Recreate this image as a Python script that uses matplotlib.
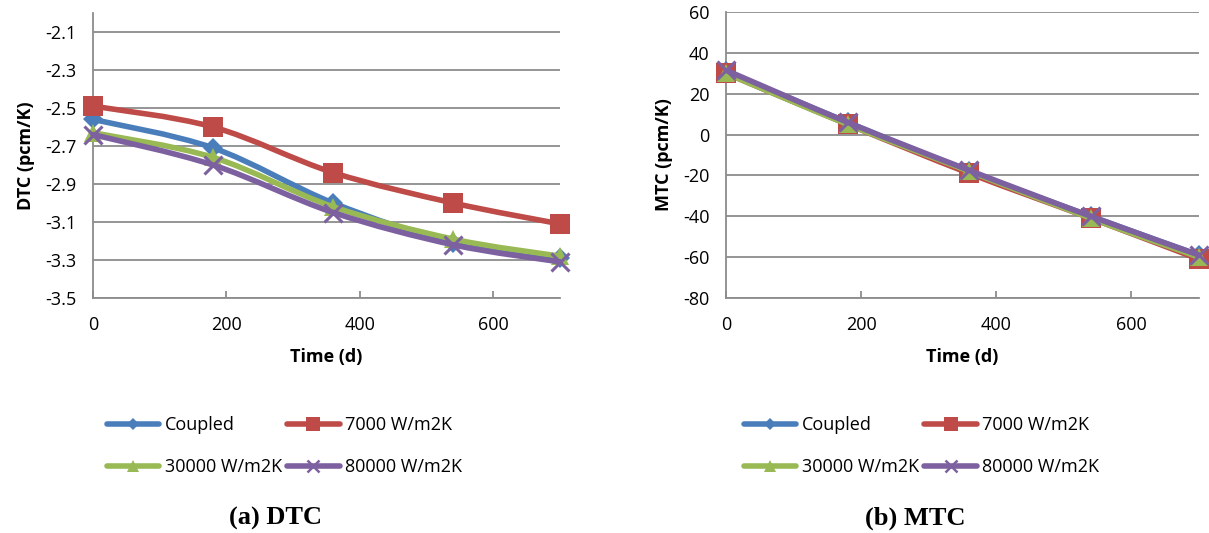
import numpy as np
import matplotlib
matplotlib.use('Agg')
import matplotlib.pyplot as plt
from matplotlib.path import Path
from matplotlib.patches import PathPatch
from matplotlib.lines import Line2D

# Data
time_d = [0, 180, 360, 540, 700]
series_names = ['Coupled', '7000 W/m2K', '30000 W/m2K', '80000 W/m2K']

dtc_coupled = [-2.56, -2.71, -3.00, -3.21, -3.29]
dtc_7000 = [-2.49, -2.60, -2.84, -3.00, -3.11]
dtc_30000 = [-2.63, -2.76, -3.02, -3.19, -3.28]
dtc_80000 = [-2.64, -2.80, -3.05, -3.22, -3.31]

mtc_coupled = [31, 6, -18, -40, -59]
mtc_7000 = [30, 5, -19, -41, -61]
mtc_30000 = [30, 5, -18, -41, -60]
mtc_80000 = [31.5, 6, -17.5, -40, -59]

colors = ['#4a7ebb', '#be4b48', '#98b954', '#7d60a0']
markers = ['D', 's', '^', 'x']
msizes = [10, 14, 13, 13]

plt.rcParams['font.family'] = ['Open Sans', 'DejaVu Sans']
plt.rcParams['axes.unicode_minus'] = False
grid_col = '#8c8c8c'
fs = 13


def smooth_path(x, y):
    # Excel-like smoothed line: Catmull-Rom segments as cubic Bezier curves
    pts = np.column_stack([x, y]).astype(float)
    ext = np.vstack([pts[0], pts, pts[-1]])
    verts = [tuple(pts[0])]
    codes = [Path.MOVETO]
    for i in range(1, len(ext) - 2):
        p0, p1, p2, p3 = ext[i - 1], ext[i], ext[i + 1], ext[i + 2]
        c1 = p1 + (p2 - p0) / 6.0
        c2 = p2 - (p3 - p1) / 6.0
        verts += [tuple(c1), tuple(c2), tuple(p2)]
        codes += [Path.CURVE4] * 3
    return Path(verts, codes)


def draw_panel(ax, data, ylim, yticks, ylabel):
    for i, vals in enumerate(data):
        patch = PathPatch(smooth_path(time_d, vals), fill=False, edgecolor=colors[i],
                          linewidth=4, capstyle='round', joinstyle='round',
                          zorder=3 + i, clip_on=False)
        ax.add_patch(patch)
        mew = 2.2 if markers[i] == 'x' else 0
        ax.plot(time_d, vals, linestyle='none', marker=markers[i], markersize=msizes[i],
                color=colors[i], markeredgewidth=mew, zorder=3 + i, clip_on=False)
    ax.set_xlim(0, 700)
    ax.set_ylim(*ylim)
    ax.set_xticks([0, 200, 400, 600])
    ax.set_yticks(yticks)
    ax.yaxis.grid(True, color=grid_col, linewidth=1.3)
    ax.set_axisbelow(True)
    for s in ['top', 'right']:
        ax.spines[s].set_visible(False)
    for s in ['left', 'bottom']:
        ax.spines[s].set_color(grid_col)
        ax.spines[s].set_linewidth(1.3)
    ax.tick_params(axis='x', direction='in', length=5, width=1.3, color=grid_col,
                   labelsize=fs, pad=13)
    ax.tick_params(axis='y', length=0, labelsize=fs, pad=12)
    ax.set_xlabel('Time (d)', fontsize=fs, fontweight='bold', labelpad=10)
    ax.set_ylabel(ylabel, fontsize=fs, fontweight='bold', labelpad=7)


fig = plt.figure(figsize=(12.09, 5.33), dpi=100)
ax1 = fig.add_axes([0.0769, 0.4409, 0.3863, 0.5347])
ax2 = fig.add_axes([0.6005, 0.4409, 0.3912, 0.5366])

dtc_ticks = np.round(np.arange(-3.5, -2.0, 0.2), 1)
draw_panel(ax1, [dtc_coupled, dtc_7000, dtc_30000, dtc_80000], (-3.5, -2.0),
           dtc_ticks, 'DTC (pcm/K)')
ax1.set_yticklabels([f'{v:.1f}' for v in dtc_ticks])
draw_panel(ax2, [mtc_coupled, mtc_7000, mtc_30000, mtc_80000], (-80, 60),
           np.arange(-80, 61, 20), 'MTC (pcm/K)')

handles = []
for i in range(4):
    mew = 1.8 if markers[i] == 'x' else 0
    handles.append(Line2D([], [], color=colors[i], linewidth=4, marker=markers[i],
                          markersize=msizes[i] - 4, markeredgewidth=mew,
                          solid_capstyle='round'))

# row-major order like the Excel legend: Coupled, 7000 / 30000, 80000
order = [0, 2, 1, 3]
for lx in [0.0885, 0.6154]:
    fig.legend([handles[k] for k in order], [series_names[k] for k in order],
               loc='center left', bbox_to_anchor=(lx, 0.163), ncol=2,
               frameon=False, fontsize=fs, handlelength=2.9, handletextpad=0.3,
               columnspacing=0.3, labelspacing=1.3, borderpad=0, borderaxespad=0)

fig.text(0.228, 0.027, '(a) DTC', ha='center', va='center', fontsize=19,
         fontweight='bold', family=['Liberation Serif', 'DejaVu Serif'])
fig.text(0.757, 0.027, '(b) MTC', ha='center', va='center', fontsize=19,
         fontweight='bold', family=['Liberation Serif', 'DejaVu Serif'])

fig.savefig('out.png', dpi=100)
